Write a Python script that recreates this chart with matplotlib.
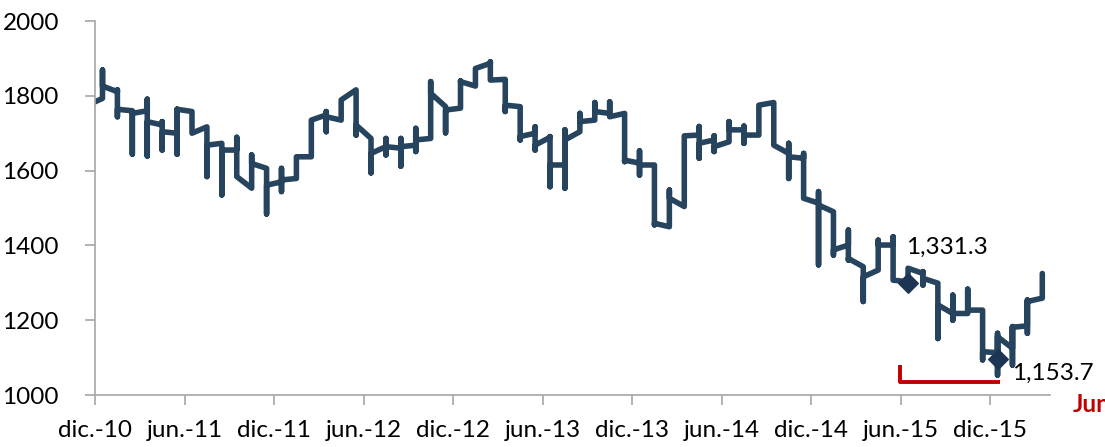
import matplotlib
matplotlib.use("Agg")
import matplotlib.pyplot as plt
import numpy as np

# ── Datos (un registro por mes: primero, máximo, mínimo, último) ─────────────

month_start = -1   # nov.-10, fuera del eje (se recorta)
first_vals = [1775, 1793, 1811, 1760, 1760, 1722, 1700, 1758, 1717, 1673, 1655,
              1553, 1606, 1570, 1579, 1637, 1749, 1735, 1816, 1686, 1664, 1660,
              1668, 1686, 1771, 1767, 1826, 1887, 1844, 1771, 1700, 1689, 1615,
              1704, 1735, 1753, 1753, 1620, 1615, 1450, 1504, 1695, 1682, 1677,
              1709, 1695, 1782, 1646, 1633, 1513, 1490, 1401, 1343, 1334, 1401,
              1303, 1325, 1299, 1218, 1218, 1227, 1113, 1125, 1185, 1259]
high_vals  = [1775, 1869, 1816, 1760, 1791, 1731, 1764, 1758, 1717, 1673, 1689,
              1642, 1606, 1606, 1637, 1735, 1758, 1789, 1816, 1686, 1686, 1686,
              1713, 1838, 1771, 1840, 1873, 1891, 1844, 1771, 1717, 1691, 1709,
              1753, 1782, 1784, 1753, 1653, 1615, 1548, 1691, 1718, 1693, 1731,
              1719, 1775, 1782, 1673, 1646, 1544, 1490, 1441, 1343, 1414, 1423,
              1339, 1330, 1299, 1267, 1283, 1227, 1165, 1183, 1254, 1325]
low_vals   = [1775, 1793, 1744, 1644, 1639, 1655, 1644, 1700, 1584, 1535, 1584,
              1553, 1484, 1544, 1579, 1637, 1704, 1735, 1695, 1594, 1642, 1612,
              1651, 1686, 1701, 1767, 1826, 1842, 1758, 1682, 1655, 1557, 1553,
              1704, 1735, 1744, 1624, 1588, 1455, 1450, 1504, 1633, 1651, 1677,
              1673, 1695, 1668, 1579, 1526, 1348, 1374, 1361, 1250, 1334, 1307,
              1303, 1294, 1151, 1200, 1218, 1094, 1053, 1080, 1165, 1259]
last_vals  = [1775, 1826, 1764, 1753, 1731, 1704, 1764, 1700, 1668, 1655, 1584,
              1619, 1561, 1575, 1637, 1735, 1744, 1789, 1722, 1646, 1664, 1664,
              1682, 1807, 1762, 1838, 1873, 1842, 1775, 1691, 1668, 1615, 1682,
              1731, 1758, 1744, 1628, 1615, 1459, 1526, 1693, 1673, 1664, 1709,
              1695, 1775, 1668, 1637, 1526, 1508, 1388, 1365, 1316, 1401, 1307,
              1339, 1312, 1241, 1218, 1227, 1116, 1156, 1181, 1250, 1325]

tick_labels = ["dic.-10", "jun.-11", "dic.-11", "jun.-12", "dic.-12", "jun.-13",
               "dic.-13", "jun.-14", "dic.-14", "jun.-15", "dic.-15"]

marker_months = [54, 60]        # jun.-15, dic.-15
marker_vals   = [1300, 1095]
marker_texts  = ["1,331.3", "1,153.7"]

LINE_COL = "#27445F"
MARK_COL = "#1D3554"
RED      = "#C00000"
AXIS_COL = "#A6A6A6"
FS = 17.5

plt.rcParams.update({
    "font.family": ["Lato", "DejaVu Sans"],
    "font.size": FS,
})

# ── Construcción de la serie: los valores diarios de cada mes se apilan ─────
xs, ys = [], []
for k, (f, h, l, e) in enumerate(zip(first_vals, high_vals, low_vals, last_vals)):
    x = month_start + k + 0.5
    xs += [x, x, x, x]
    ys += [f, h, l, e]

fig = plt.figure(figsize=(11.05, 4.47), dpi=100)
ax = fig.add_axes([0.086, 0.1163, 0.864, 0.8367])

ax.plot(xs, ys, color=LINE_COL, lw=4.0, solid_joinstyle="round",
        solid_capstyle="round", zorder=2)
ax.scatter([m + 0.5 for m in marker_months], marker_vals, marker="D", s=100,
           color=MARK_COL, zorder=3)

ax.text(marker_months[0] + 0.4, 1395, marker_texts[0], ha="left", va="center")
ax.text(marker_months[1] + 1.5, 1058, marker_texts[1], ha="left", va="center")

# corchete rojo (periodo jun.-15 a dic.-15)
ax.plot([53.95, 53.95, 60.66], [1080, 1035, 1035], color=RED, lw=2.8,
        solid_capstyle="butt", zorder=2, clip_on=False)
fig.text(0.971, 0.094, "Jun", color=RED, fontsize=FS, fontweight="bold",
         ha="left", va="center")

ax.set_xlim(0, 64)
ax.set_ylim(1000, 2000)
ax.set_xticks(np.arange(0, 61, 6))
ax.set_xticklabels(tick_labels)
ax.set_yticks(np.arange(1000, 2001, 200))

for s in ["top", "right"]:
    ax.spines[s].set_visible(False)
for s in ["left", "bottom"]:
    ax.spines[s].set_color(AXIS_COL)
    ax.spines[s].set_linewidth(1.2)
ax.tick_params(axis="both", colors=AXIS_COL, labelcolor="black",
               length=7, width=1.2)
ax.tick_params(axis="y", pad=19)
ax.tick_params(axis="x", pad=11)

fig.savefig("out.png", dpi=100)
